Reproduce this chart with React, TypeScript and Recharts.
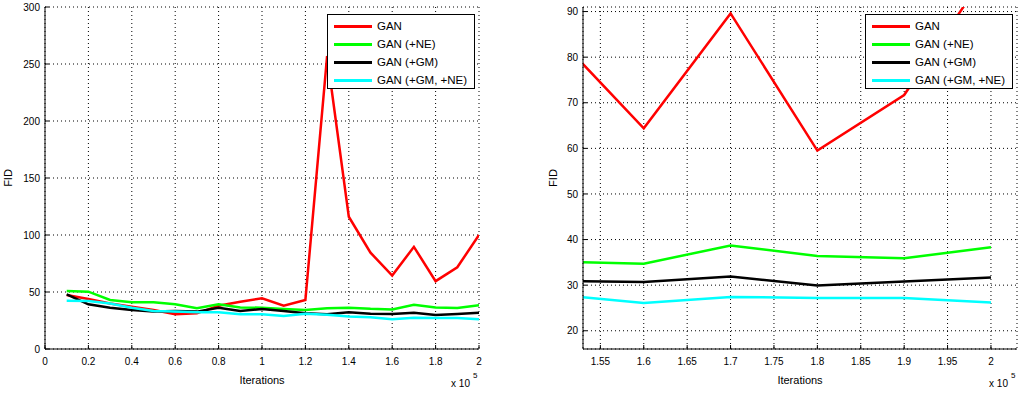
import { LineChart, Line, XAxis, YAxis, CartesianGrid, Legend, Label } from "recharts";

const FONT = "'Liberation Sans', Arial, Helvetica, sans-serif";

// iterations in units of 1e5
const iterations = [0.1, 0.2, 0.3, 0.4, 0.5, 0.6, 0.7, 0.8, 0.9, 1.0, 1.1, 1.2, 1.3, 1.4, 1.5, 1.6, 1.7, 1.8, 1.9, 2.0];
const gan = [47.4, 43.9, 40, 37.1, 34.2, 30.4, 31.3, 38, 41.5, 44.5, 38, 43, 257, 116, 84.5, 64.4, 89.6, 59.5, 71.7, 100];
const ganNe = [50.9, 50.3, 43, 41, 41, 39.2, 35.7, 39.2, 36.5, 36.2, 35.1, 34.2, 35.7, 36.2, 35.2, 34.7, 38.7, 36.4, 35.9, 38.3];
const ganGm = [48, 39.2, 36.2, 34.2, 32.8, 33.3, 32.8, 36.2, 33.3, 35.1, 33.3, 31.3, 30.4, 32.2, 30.9, 30.7, 31.9, 29.9, 30.8, 31.7];
const ganGmNe = [42.4, 42.1, 40, 36.2, 33.3, 32.8, 32.2, 32.2, 30.4, 30.5, 29, 31, 30, 28.5, 27.9, 26.1, 27.4, 27.2, 27.2, 26.2];

const leftXTicks = [0, 0.2, 0.4, 0.6, 0.8, 1, 1.2, 1.4, 1.6, 1.8, 2];
const leftYTicks = [0, 50, 100, 150, 200, 250, 300];
const rightXTicks = [1.55, 1.6, 1.65, 1.7, 1.75, 1.8, 1.85, 1.9, 1.95, 2];
const rightYTicks = [20, 30, 40, 50, 60, 70, 80, 90];

const SERIES = [
    { key: "gan", name: "GAN", color: "#ff0000" },
    { key: "ganNe", name: "GAN (+NE)", color: "#00ff00" },
    { key: "ganGm", name: "GAN (+GM)", color: "#000000" },
    { key: "ganGmNe", name: "GAN (+GM, +NE)", color: "#00ffff" },
];

const data = iterations.map((it, i) => ({
    it,
    gan: gan[i],
    ganNe: ganNe[i],
    ganGm: ganGm[i],
    ganGmNe: ganGmNe[i],
}));

const tickStyle = { fontSize: 10, fill: "#000", fontFamily: FONT };

function BoxLegend({ payload }: any) {
    // keep the plotting order (recharts sorts legend items by name)
    const items = SERIES.map((s) => (payload || []).find((p: any) => p.value === s.name)).filter(Boolean);
    return (
        <div
            style={{
                width: 148,
                height: 75,
                boxSizing: "border-box",
                border: "1px solid #000",
                background: "#fff",
                paddingTop: 2,
                fontFamily: FONT,
                fontSize: 11.5,
                color: "#000",
            }}
        >
            {items.map((p: any) => (
                <div key={p.value} style={{ display: "flex", alignItems: "center", height: 18 }}>
                    <span style={{ marginLeft: 6, width: 38, height: 3, background: p.color }} />
                    <span style={{ marginLeft: 5, whiteSpace: "nowrap" }}>{p.value}</span>
                </div>
            ))}
        </div>
    );
}

const XLabel = ({ viewBox }: any) => {
    const { x, y, width } = viewBox;
    const right = x + width;
    return (
        <g fontFamily={FONT} fill="#000">
            <text x={x + width / 2} y={y + 35} textAnchor="middle" fontSize={11}>Iterations</text>
            <text x={right - 9} y={y + 38} textAnchor="end" fontSize={10}>x 10</text>
            <text x={right - 6} y={y + 29} fontSize={8}>5</text>
        </g>
    );
};

const makeYLabel = (dx: number) => ({ viewBox }: any) => {
    const { x, y, width, height } = viewBox;
    const cx = x + width - dx;
    const cy = y + height / 2;
    return (
        <text
            x={cx}
            y={cy}
            transform={`rotate(-90 ${cx} ${cy})`}
            textAnchor="middle"
            dominantBaseline="central"
            fontSize={11}
            fontFamily={FONT}
            fill="#000"
        >
            FID
        </text>
    );
};

type PanelProps = {
    width: number;
    margin: { top: number; right: number; bottom: number; left: number };
    xDomain: [number, number];
    yDomain: [number, number];
    xTicks: number[];
    yTicks: number[];
    fidOffset: number;
    legendLeft: number;
};

function Panel({ width, margin, xDomain, yDomain, xTicks, yTicks, fidOffset, legendLeft }: PanelProps) {
    return (
        <LineChart width={width} height={396} data={data} margin={margin}>
            <CartesianGrid stroke="#000" strokeDasharray="1 3" />
            <XAxis
                type="number"
                dataKey="it"
                domain={xDomain}
                ticks={xTicks}
                interval={0}
                allowDataOverflow
                height={40}
                tickSize={-4}
                tickMargin={13}
                tick={tickStyle}
                stroke="#000"
                tickFormatter={(v: number) => String(v)}
            >
                <Label content={XLabel} />
            </XAxis>
            <YAxis
                type="number"
                domain={yDomain}
                ticks={yTicks}
                interval={0}
                allowDataOverflow
                width={40}
                tickSize={-4}
                tickMargin={9}
                tick={tickStyle}
                stroke="#000"
            >
                <Label content={makeYLabel(fidOffset)} />
            </YAxis>
            <Legend
                layout="vertical"
                align="center"
                verticalAlign="middle"
                wrapperStyle={{ left: legendLeft, top: 14, width: 148 }}
                content={BoxLegend}
            />
            {SERIES.map((s) => (
                <Line
                    key={s.key}
                    type="linear"
                    dataKey={s.key}
                    name={s.name}
                    stroke={s.color}
                    strokeWidth={2.5}
                    dot={false}
                    activeDot={false}
                    isAnimationActive={false}
                />
            ))}
        </LineChart>
    );
}

export default function App() {
    return (
        <div style={{ position: "absolute", left: 0, top: 0, width: 1030, height: 396, background: "#fff", overflow: "hidden" }}>
            <div style={{ position: "absolute", left: 0, top: 0 }}>
                <Panel
                    width={520}
                    margin={{ top: 7, right: 41, bottom: 7, left: 5 }}
                    xDomain={[0, 2]}
                    yDomain={[0, 300]}
                    xTicks={leftXTicks}
                    yTicks={leftYTicks}
                    fidOffset={37}
                    legendLeft={327}
                />
            </div>
            <div style={{ position: "absolute", left: 520, top: 0 }}>
                <Panel
                    width={510}
                    margin={{ top: 7, right: 13, bottom: 7, left: 23 }}
                    xDomain={[1.53, 2.03]}
                    yDomain={[16, 91]}
                    xTicks={rightXTicks}
                    yTicks={rightYTicks}
                    fidOffset={30}
                    legendLeft={345}
                />
            </div>
        </div>
    );
}
